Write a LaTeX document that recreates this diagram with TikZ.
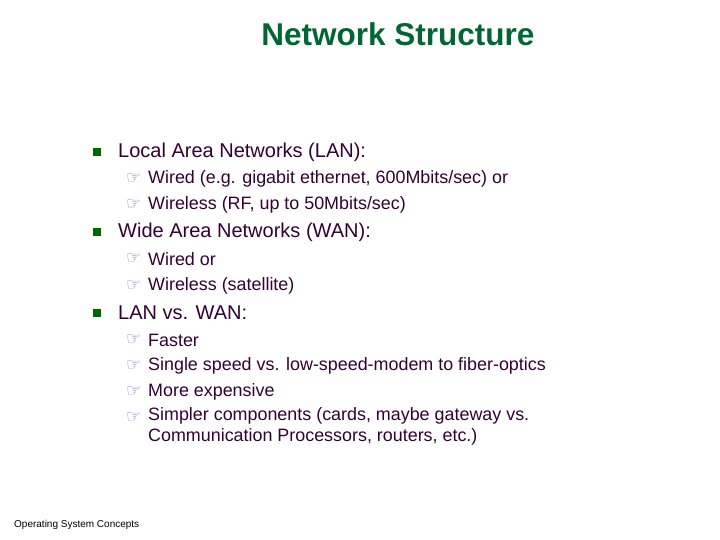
\documentclass[tikz,border=0pt]{standalone}
\usepackage{fontspec}
\setmainfont{Liberation Sans}
\newfontfamily\dvs{DejaVu Sans}
\definecolor{ttl}{HTML}{006633}
\definecolor{txt}{HTML}{330033}
\definecolor{bul}{HTML}{006600}
\definecolor{hand}{HTML}{9966CC}
\begin{document}
\begin{tikzpicture}[x=1pt,y=1pt,
 lvl1/.style={anchor=west,text=txt,font=\fontsize{20}{24}\selectfont,inner sep=0},
 lvl2/.style={anchor=west,text=txt,font=\fontsize{17.9}{22}\selectfont,inner sep=0,align=left},
 sq/.style={fill=bul,minimum size=8,inner sep=0},
 hd/.style={anchor=west,text=hand,font=\dvs\fontsize{17}{18}\selectfont,inner sep=0}]
\useasboundingbox (0,0) rectangle (720,-540);
\node[text=ttl,font=\bfseries\fontsize{31.5}{36}\selectfont] (title) at (398,-34) {Network Structure};
\node[sq] (b1) at (97,-152) {};
\node[lvl1] (t1) at (118,-152) {Local Area Networks (LAN):};
\node[hd] (h11) at (126,-179) {☞};
\node[lvl2] (s11) at (148,-179) {Wired (e.g. gigabit ethernet, 600Mbits/sec) or};
\node[hd] (h12) at (126,-205) {☞};
\node[lvl2] (s12) at (148,-205) {Wireless (RF, up to 50Mbits/sec)};
\node[sq] (b2) at (97,-232) {};
\node[lvl1] (t2) at (118,-232) {Wide Area Networks (WAN):};
\node[hd] (h21) at (126,-259) {☞};
\node[lvl2] (s21) at (148,-259) {Wired or};
\node[hd] (h22) at (126,-286) {☞};
\node[lvl2] (s22) at (148,-286) {Wireless (satellite)};
\node[sq] (b3) at (97,-313) {};
\node[lvl1] (t3) at (118,-313) {LAN vs. WAN:};
\node[hd] (h31) at (126,-340) {☞};
\node[lvl2] (s31) at (148,-340) {Faster};
\node[hd] (h32) at (126,-366) {☞};
\node[lvl2] (s32) at (148,-366) {Single speed vs. low-speed-modem to fiber-optics};
\node[hd] (h33) at (126,-392) {☞};
\node[lvl2] (s33) at (148,-392) {More expensive};
\node[hd] (h34) at (126,-418) {☞};
\node[lvl2,anchor=north west] (s34) at (148,-407) {Simpler components (cards, maybe gateway vs.\\[-1pt]Communication Processors, routers, etc.)};
\node[anchor=west,inner sep=0,font=\fontsize{10}{11}\selectfont] (foot) at (14,-525) {Operating System Concepts};
\end{tikzpicture}
\end{document}
